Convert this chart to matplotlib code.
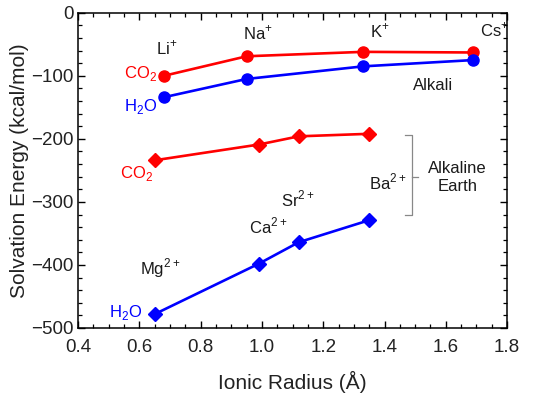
import matplotlib
matplotlib.use("Agg")
import matplotlib.pyplot as plt
from matplotlib.ticker import MultipleLocator, FormatStrFormatter

# Alkali cations (Li+, Na+, K+, Cs+)
alkali_radius = [0.68, 0.95, 1.33, 1.69]
alkali_co2 = [-100, -69, -62, -63]
alkali_h2o = [-134, -105, -85, -75]

# Alkaline earth cations (Mg2+, Ca2+, Sr2+, Ba2+)
earth_radius = [0.65, 0.99, 1.12, 1.35]
earth_co2 = [-234, -209, -196, -192]
earth_h2o = [-478, -398, -364, -329]

RED = "#FF0000"
BLUE = "#0000FF"
TEXT = "#1A1A1A"

plt.rcParams.update({
    "font.family": ["Liberation Sans", "DejaVu Sans"],
    "mathtext.fontset": "custom",
    "mathtext.rm": "Liberation Sans",
})

fig = plt.figure(figsize=(5.5, 3.99), dpi=100)
ax = fig.add_axes([0.142, 0.178, 0.780, 0.790])

ax.plot(alkali_radius, alkali_co2, "-o", color=RED, lw=1.9, ms=8, zorder=3)
ax.plot(alkali_radius, alkali_h2o, "-o", color=BLUE, lw=1.9, ms=8, zorder=3)
ax.plot(earth_radius, earth_co2, "-D", color=RED, lw=1.9, ms=7, zorder=3)
ax.plot(earth_radius, earth_h2o, "-D", color=BLUE, lw=1.9, ms=7, zorder=3)

ax.set_xlim(0.4, 1.8)
ax.set_ylim(-500, 0)
ax.xaxis.set_major_locator(MultipleLocator(0.2))
ax.xaxis.set_minor_locator(MultipleLocator(0.05))
ax.yaxis.set_major_locator(MultipleLocator(100))
ax.yaxis.set_minor_locator(MultipleLocator(20))
ax.xaxis.set_major_formatter(FormatStrFormatter("%.1f"))
ax.tick_params(which="both", direction="in", top=True, right=True, labelsize=13.5,
               colors="black", labelcolor="#222222")
ax.tick_params(which="major", length=5, width=1.0)
ax.tick_params(which="minor", length=3, width=0.9)
ax.tick_params(axis="x", pad=8)
ax.tick_params(axis="y", pad=3)
for s in ax.spines.values():
    s.set_linewidth(1.1)

ax.set_xlabel("Ionic Radius (Å)", fontsize=15, color="#222222", labelpad=11)
ax.set_ylabel("Solvation Energy (kcal/mol)", fontsize=15, color="#222222", labelpad=2)

fs = 12
# ion labels
ax.text(0.69, -56, r"Li$^{+}$", fontsize=fs, ha="center", va="center", color=TEXT)
ax.text(0.985, -32, r"Na$^{+}$", fontsize=fs, ha="center", va="center", color=TEXT)
ax.text(1.386, -29, r"K$^{+}$", fontsize=fs, ha="center", va="center", color=TEXT)
ax.text(1.76, -27, r"Cs$^{+}$", fontsize=fs, ha="center", va="center", color=TEXT)
ax.text(0.668, -405, r"Mg$^{2+}$", fontsize=fs, ha="center", va="center", color=TEXT)
ax.text(1.02, -338, r"Ca$^{2+}$", fontsize=fs, ha="center", va="center", color=TEXT)
ax.text(1.118, -296, r"Sr$^{2+}$", fontsize=fs, ha="center", va="center", color=TEXT)
ax.text(1.41, -269, r"Ba$^{2+}$", fontsize=fs, ha="center", va="center", color=TEXT)

# solvent labels
ax.text(0.605, -96, r"CO$_2$", fontsize=fs, ha="center", va="center", color=RED)
ax.text(0.605, -149, r"H$_2$O", fontsize=fs, ha="center", va="center", color=BLUE)
ax.text(0.59, -255, r"CO$_2$", fontsize=fs, ha="center", va="center", color=RED)
ax.text(0.555, -475, r"H$_2$O", fontsize=fs, ha="center", va="center", color=BLUE)

# group labels
ax.text(1.559, -115, "Alkali", fontsize=fs, ha="center", va="center", color=TEXT)
ax.text(1.637, -261, "Alkaline\nEarth", fontsize=fs, ha="center", va="center",
        color=TEXT, linespacing=1.25)

# bracket
ax.plot([1.467, 1.49, 1.49, 1.467], [-194, -194, -321, -321], color="#888888", lw=0.9)
ax.plot([1.49, 1.51], [-261, -261], color="#888888", lw=0.9)

fig.savefig("out.png", dpi=100)
